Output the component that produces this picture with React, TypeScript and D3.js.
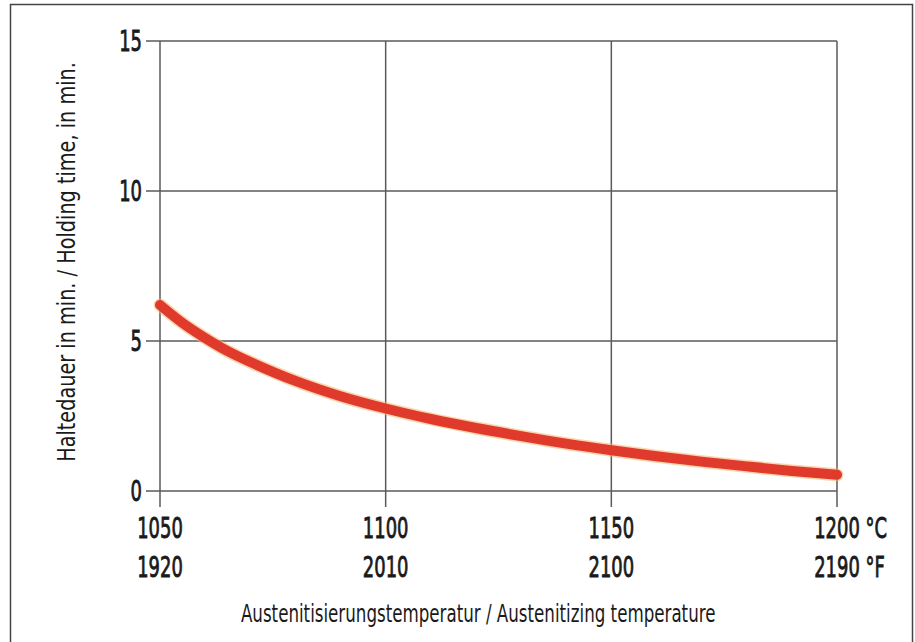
import React, { useEffect, useRef } from 'react';
import * as d3 from 'd3';

// Holding time vs. austenitizing temperature, single curve on a 3x3 grid.

const W = 915;
const H = 642;
const MARGIN = { top: 41, right: 78, bottom: 151, left: 160 };

const tempC = [1050, 1055, 1060, 1065, 1070, 1080, 1090, 1100, 1110, 1120, 1130, 1140, 1150, 1160, 1170, 1180, 1190, 1200];
const holdMin = [6.2, 5.6, 5.1, 4.66, 4.3, 3.67, 3.16, 2.75, 2.4, 2.1, 1.83, 1.58, 1.36, 1.16, 0.98, 0.82, 0.67, 0.54];

const xTicksC = [1050, 1100, 1150, 1200];
const xTicksF = ['1920', '2010', '2100', '2190'];
const yTicks = [0, 5, 10, 15];

const FONT = "'DejaVu Sans', sans-serif";
const SQUEEZE = 0.64;

const App = () => {
  const svgRef = useRef<SVGSVGElement>(null);

  useEffect(() => {
    const svg = d3.select(svgRef.current);
    svg.selectAll('*').remove();

    const innerW = W - MARGIN.left - MARGIN.right;
    const innerH = H - MARGIN.top - MARGIN.bottom;

    const x = d3.scaleLinear().domain([1050, 1200]).range([0, innerW]);
    const y = d3.scaleLinear().domain([0, 15]).range([innerH, 0]);

    svg.append('rect').attr('width', W).attr('height', H).attr('fill', '#fff');
    // outer frame
    svg.append('rect')
      .attr('x', 10.5).attr('y', 4.5).attr('width', 902).attr('height', 660)
      .attr('fill', 'none').attr('stroke', '#444').attr('stroke-width', 1.5);

    const g = svg.append('g').attr('transform', `translate(${MARGIN.left},${MARGIN.top})`);

    // grid
    g.append('g').selectAll('line').data(yTicks).enter().append('line')
      .attr('x1', -14).attr('x2', innerW)
      .attr('y1', d => y(d)).attr('y2', d => y(d))
      .attr('stroke', '#5a5a5a').attr('stroke-width', 1.5);
    g.append('g').selectAll('line').data(xTicksC).enter().append('line')
      .attr('x1', d => x(d)).attr('x2', d => x(d))
      .attr('y1', 0).attr('y2', innerH + 16)
      .attr('stroke', '#5a5a5a').attr('stroke-width', 1.5);

    // condensed label: squeeze horizontally with a transform so the box stays honest
    // returns the squeezed width
    const label = (px: number, py: number, s: string, size: number,
      anchor: string, opts: { width?: number; rotate?: number; heavy?: boolean } = {}) => {
      const t = g.append('text')
        .attr('text-anchor', anchor)
        .style('font-family', FONT).style('font-size', `${size}px`)
        .attr('fill', '#1a1a1a')
        .text(s);
      if (opts.heavy) t.attr('stroke', '#1a1a1a').attr('stroke-width', 0.9);
      const w = (t.node() as SVGTextElement).getComputedTextLength();
      const k = opts.width ? opts.width / w : SQUEEZE;
      t.attr('transform', `translate(${px},${py}) rotate(${opts.rotate ?? 0}) scale(${k},1)`);
      return w * k;
    };

    // y tick labels
    yTicks.forEach(v => label(-18, y(v) + 10, String(v), 28, 'end', { heavy: true }));

    // x tick labels (°C and °F); units hang off the right of the last number
    xTicksC.forEach((t, i) => {
      const last = i === xTicksC.length - 1;
      [[String(t), '°C', 47], [xTicksF[i], '°F', 86]].forEach(([num, unit, dy]) => {
        if (!last) {
          label(x(t), innerH + (dy as number), num as string, 28, 'middle', { heavy: true });
        } else {
          const probe = g.append('text').style('font-family', FONT).style('font-size', '28px').text(num as string);
          const wNum = (probe.node() as SVGTextElement).getComputedTextLength() * SQUEEZE;
          probe.remove();
          label(x(t) - wNum / 2, innerH + (dy as number), `${num} ${unit}`, 28, 'start', { heavy: true });
        }
      });
    });

    // axis titles
    label(x(1120.5), innerH + 131, 'Austenitisierungstemperatur / Austenitizing temperature', 24, 'middle',
      { width: 475 });
    label(-85, 262 - MARGIN.top, 'Haltedauer in min. / Holding time, in min.', 24, 'middle',
      { width: 400, rotate: -90 });

    // curve
    const line = d3.line<number>()
      .x((_, i) => x(tempC[i]))
      .y(d => y(d))
      .curve(d3.curveCatmullRom.alpha(0.5));

    g.append('path').attr('d', line(holdMin)!)
      .attr('fill', 'none').attr('stroke', '#f6b26b').attr('stroke-opacity', 0.55)
      .attr('stroke-width', 13).attr('stroke-linecap', 'round');
    g.append('path').attr('d', line(holdMin)!)
      .attr('fill', 'none').attr('stroke', '#e03a2c')
      .attr('stroke-width', 10).attr('stroke-linecap', 'round');
  }, []);

  return (
    <svg ref={svgRef} width={W} height={H}
      style={{ position: 'absolute', left: 0, top: 0, display: 'block' }} />
  );
};

export default App;
